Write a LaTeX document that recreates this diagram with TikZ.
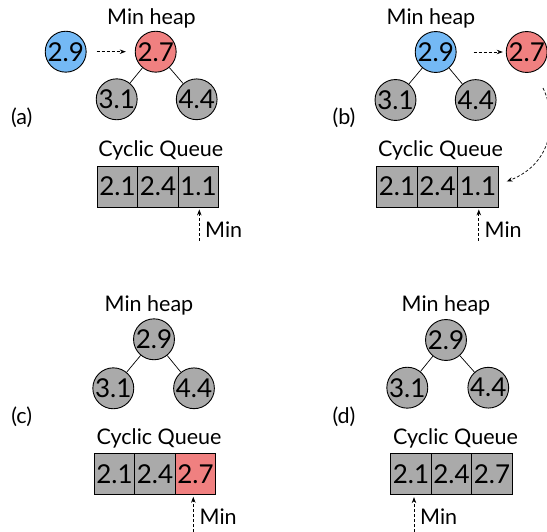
\documentclass[tikz,border=0pt]{standalone}
\usepackage{fontspec}
\setmainfont{Lato}
\usetikzlibrary{arrows.meta}
\definecolor{hblue}{HTML}{74B9F5}
\definecolor{hred}{HTML}{F08080}
\definecolor{hgray}{HTML}{AAAAAA}
\tikzset{
  hnode/.style={circle,draw=black,line width=0.9pt,minimum size=40.6pt,inner sep=0pt,fill=hgray,font=\fontsize{26}{26}\selectfont},
  qcell/.style={rectangle,draw=black,line width=0.9pt,minimum width=40.5pt,minimum height=41pt,inner sep=0pt,fill=hgray,font=\fontsize{26}{26}\selectfont},
  lbl/.style={font=\fontsize{21.5}{21.5}\selectfont,inner sep=0pt},
  tedge/.style={line width=0.7pt},
  darr/.style={dashed,dash pattern=on 3pt off 2pt,line width=0.7pt,-{Stealth[length=6pt,width=4.5pt]}},
}
\begin{document}
\begin{tikzpicture}[x=1pt,y=-1pt]
\useasboundingbox (0,0) rectangle (547,532);
% ---------- (a)
\node[lbl] (ha) at (151.5,18) {Min heap};
\node[hnode,fill=hblue] (ba) at (65.7,51.7) {2.9};
\node[hnode,fill=hred] (ra) at (155.7,51.7) {2.7};
\node[hnode] (la) at (116.7,99.3) {3.1};
\node[hnode] (sa) at (196.7,99.3) {4.4};
\draw[tedge] (ra) -- (la);
\draw[tedge] (ra) -- (sa);
\draw[darr,shorten <=10pt,shorten >=9pt] (ba) -- (ra);
\node[lbl] (pa) at (21.7,118) {(a)};
\node[lbl] (cqa) at (160.8,150) {Cyclic Queue};
\node[qcell] (qa1) at (117.5,186.5) {2.1};
\node[qcell] (qa2) at (158,186.5) {2.4};
\node[qcell] (qa3) at (198.5,186.5) {1.1};
\coordinate (ma) at (199.3,241);
\draw[darr,shorten >=2pt] (ma) -- (ma |- qa3.south);
\node[lbl,anchor=west] (mna) at (205,230) {Min};
% ---------- (b)
\node[lbl] (hb) at (431,18) {Min heap};
\node[hnode,fill=hblue] (bb) at (435.7,52) {2.9};
\node[hnode,fill=hred] (rb) at (526.7,52) {2.7};
\node[hnode] (lb) at (395.5,100) {3.1};
\node[hnode] (sb) at (475.7,100) {4.4};
\draw[tedge] (bb) -- (lb);
\draw[tedge] (bb) -- (sb);
\draw[darr,shorten <=17pt,shorten >=3pt] (bb) -- (rb);
\node[lbl] (pb) at (344,118) {(b)};
\node[lbl] (cqb) at (440.5,150) {Cyclic Queue};
\node[qcell] (qb1) at (397,186.5) {2.1};
\node[qcell] (qb2) at (437.5,186.5) {2.4};
\node[qcell] (qb3) at (478,186.5) {1.1};
\coordinate (mb) at (478.8,241);
\draw[darr,shorten >=2pt] (mb) -- (mb |- qb3.south);
\node[lbl,anchor=west] (mnb) at (484.5,230) {Min};
\coordinate (cs) at (543,88);
\draw[darr] (cs) .. controls (556,115) and (556,162) .. ([shift={(8,-5)}]qb3.east);
% ---------- (c)
\node[lbl] (hc) at (149,305) {Min heap};
\node[hnode] (tc) at (154,339.3) {2.9};
\node[hnode] (lc) at (113.3,388.3) {3.1};
\node[hnode] (sc) at (194,388.3) {4.4};
\draw[tedge] (tc) -- (lc);
\draw[tedge] (tc) -- (sc);
\node[lbl] (pc) at (21.7,416.7) {(c)};
\node[lbl] (cqc) at (159,438) {Cyclic Queue};
\node[qcell] (qc1) at (114.5,473.8) {2.1};
\node[qcell] (qc2) at (155,473.8) {2.4};
\node[qcell,fill=hred] (qc3) at (195.5,473.8) {2.7};
\coordinate (mc) at (193.3,532);
\draw[darr,shorten >=2pt] (mc) -- (mc |- qc3.south);
\node[lbl,anchor=west] (mnc) at (199.5,517) {Min};
% ---------- (d)
\node[lbl] (hd) at (446,305) {Min heap};
\node[hnode] (td) at (446,340) {2.9};
\node[hnode] (ld) at (407.3,387.7) {3.1};
\node[hnode] (sd) at (488.3,387.7) {4.4};
\draw[tedge] (td) -- (ld);
\draw[tedge] (td) -- (sd);
\node[lbl] (pd) at (344,416.7) {(d)};
\node[lbl] (cqd) at (455.5,438) {Cyclic Queue};
\node[qcell] (qd1) at (411,474.2) {2.1};
\node[qcell] (qd2) at (451.5,474.2) {2.4};
\node[qcell] (qd3) at (492,474.2) {2.7};
\coordinate (md) at (414,532);
\draw[darr,shorten >=2pt] (md) -- (md |- qd1.south);
\node[lbl,anchor=west] (mnd) at (420,517) {Min};
\end{tikzpicture}
\end{document}
